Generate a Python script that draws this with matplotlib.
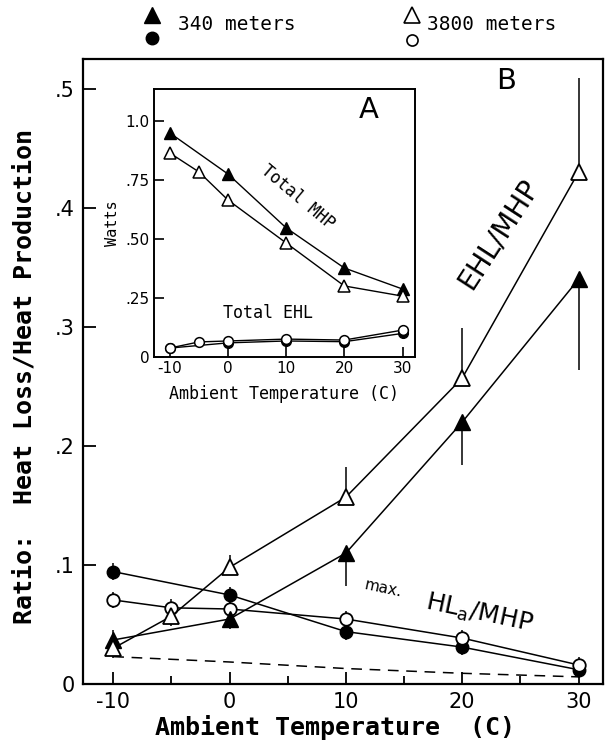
import numpy as np
import matplotlib.pyplot as plt
from matplotlib.lines import Line2D

plt.rcParams['font.family'] = 'DejaVu Sans'
MONO = 'DejaVu Sans Mono'   # wide, evenly spaced letters like the tracked labels

# main panel B: ratios
temp_340 = [-10, 0, 10, 20, 30]
temp_3800 = [-10, -5, 0, 10, 20, 30]

ehl_340 = [0.037, 0.0546, 0.110, 0.220, 0.340]
ehl_340_lo = [0.008, 0.008, 0.028, 0.036, 0.076]
ehl_340_hi = [0.008, 0.008, 0.0, 0.0, 0.0]

ehl_3800 = [0.030, 0.057, 0.098, 0.157, 0.257, 0.430]
ehl_3800_lo = [0.008, 0.008, 0.0, 0.0, 0.0, 0.0]
ehl_3800_hi = [0.0, 0.008, 0.010, 0.025, 0.042, 0.079]

hla_340 = [0.0944, 0.0748, 0.044, 0.031, 0.012]
hla_3800 = [0.0706, 0.064, 0.063, 0.0546, 0.0386, 0.016]
hla_err = 0.007

dash_temp = [-10, 0, 10, 20, 30]
dash_vals = [0.023, 0.0185, 0.013, 0.009, 0.006]

# inset panel A: watts
mhp_340 = [0.949, 0.775, 0.547, 0.377, 0.288]
mhp_3800 = [0.864, 0.784, 0.665, 0.483, 0.301, 0.258]
ehlw_340 = [0.038, 0.060, 0.068, 0.065, 0.100]
ehlw_3800 = [0.038, 0.064, 0.068, 0.076, 0.072, 0.114]

main_yticks = [0, 0.1, 0.2, 0.3, 0.4, 0.5]
main_ylabels = ['0', '.1', '.2', '.3', '.4', '.5']
xticks = [-10, 0, 10, 20, 30]
xlabels = ['-10', '0', '10', '20', '30']
inset_yticks = [0, 0.25, 0.5, 0.75, 1.0]
inset_ylabels = ['0', '.25', '.50', '.75', '1.0']

fig = plt.figure(figsize=(6.09, 7.46), dpi=100)
ax = fig.add_axes([0.1363, 0.0831, 0.8538, 0.8378])

lw = 1.1
# dashed baseline
ax.plot(dash_temp, dash_vals, 'k--', lw=1.1, dashes=(7, 5), zorder=1)

# error bars
ax.errorbar(temp_340, ehl_340, yerr=[ehl_340_lo, ehl_340_hi], fmt='none', ecolor='k', elinewidth=1.1, capsize=0, zorder=2)
ax.errorbar(temp_3800, ehl_3800, yerr=[ehl_3800_lo, ehl_3800_hi], fmt='none', ecolor='k', elinewidth=1.1, capsize=0, zorder=2)
ax.errorbar(temp_340, hla_340, yerr=hla_err, fmt='none', ecolor='k', elinewidth=1.1, capsize=0, zorder=2)
ax.errorbar(temp_3800, hla_3800, yerr=hla_err, fmt='none', ecolor='k', elinewidth=1.1, capsize=0, zorder=2)

ax.plot(temp_340, hla_340, 'k-', lw=lw, marker='o', ms=9, mfc='k', mec='k', zorder=3)
ax.plot(temp_3800, hla_3800, 'k-', lw=lw, marker='o', ms=9, mfc='white', mec='k', mew=1.3, zorder=4)
ax.plot(temp_340, ehl_340, 'k-', lw=lw, marker='^', ms=12, mfc='k', mec='k', zorder=5)
ax.plot(temp_3800, ehl_3800, 'k-', lw=lw, marker='^', ms=12, mfc='white', mec='k', mew=1.3, zorder=6)

ax.set_xlim(-12.6, 32.1)
ax.set_ylim(0, 0.525)
ax.set_xticks(xticks)
ax.set_xticklabels(xlabels)
ax.set_xticks([-5, 5, 15, 25], minor=True)
ax.set_yticks(main_yticks)
ax.set_yticklabels(main_ylabels)
ax.tick_params(which='major', direction='in', length=9, width=1.3, labelsize=15, pad=6)
ax.tick_params(which='minor', direction='in', length=6, width=1.3)
for s in ax.spines.values():
    s.set_linewidth(1.6)

ax.text(0.813, 0.965, 'B', transform=ax.transAxes, fontsize=21, ha='center', va='center')
ax.text(0.80, 0.72, 'EHL/MHP', transform=ax.transAxes, fontsize=20, rotation=57,
        ha='center', va='center')
ax.text(0.577, 0.152, 'max.', transform=ax.transAxes, fontsize=11,
        rotation=-12, ha='center', va='center')
ax.text(0.762, 0.113, 'HL$_\\mathregular{a}$/MHP', transform=ax.transAxes, fontsize=18,
        rotation=-12, ha='center', va='center')

fig.text(25 / 609, 1 - 377 / 746, 'Ratio:  Heat Loss/Heat Production', rotation=90,
         fontsize=18, family=MONO, weight='bold', ha='center', va='center')
fig.text(335 / 609, 1 - 727 / 746, 'Ambient Temperature  (C)', fontsize=18, family=MONO,
         weight='bold', ha='center', va='center')

# legend at the top
fig.add_artist(Line2D([152 / 609], [1 - 15 / 746], transform=fig.transFigure, marker='^', ms=11, mfc='k', mec='k', ls='none'))
fig.add_artist(Line2D([152 / 609], [1 - 38 / 746], transform=fig.transFigure, marker='o', ms=9, mfc='k', mec='k', ls='none'))
fig.add_artist(Line2D([412 / 609], [1 - 15 / 746], transform=fig.transFigure, marker='^', ms=11, mfc='white', mec='k', mew=1.2, ls='none'))
fig.add_artist(Line2D([412 / 609], [1 - 40 / 746], transform=fig.transFigure, marker='o', ms=8, mfc='white', mec='k', mew=1.2, ls='none'))
fig.text(178 / 609, 1 - 25 / 746, '340 meters', fontsize=14, family=MONO, ha='left', va='center')
fig.text(427 / 609, 1 - 25 / 746, '3800 meters', fontsize=14, family=MONO, ha='left', va='center')

# inset A
ins = fig.add_axes([0.253, 0.5214, 0.428, 0.3593])
ins.plot(temp_340, mhp_340, 'k-', lw=1.0, marker='^', ms=9, mfc='k', mec='k', zorder=3)
ins.plot(temp_3800, mhp_3800, 'k-', lw=1.0, marker='^', ms=9, mfc='white', mec='k', mew=1.1, zorder=4)
ins.plot(temp_340, ehlw_340, 'k-', lw=1.0, marker='o', ms=7, mfc='k', mec='k', zorder=3)
ins.plot(temp_3800, ehlw_3800, 'k-', lw=1.0, marker='o', ms=7, mfc='white', mec='k', mew=1.1, zorder=4)
ins.set_xlim(-12.7, 32.1)
ins.set_ylim(0, 1.135)
ins.set_xticks(xticks)
ins.set_xticklabels(xlabels)
ins.set_yticks(inset_yticks)
ins.set_yticklabels(inset_ylabels)
ins.tick_params(direction='in', length=7, width=1.2, labelsize=11, pad=3)
for s in ins.spines.values():
    s.set_linewidth(1.4)
ins.set_ylabel('Watts', fontsize=11, family=MONO, labelpad=4)
ins.set_xlabel('Ambient Temperature (C)', fontsize=12, family=MONO, labelpad=6)
ins.text(0.825, 0.92, 'A', transform=ins.transAxes, fontsize=21, ha='center', va='center')
ins.text(0.552, 0.597, 'Total MHP', transform=ins.transAxes, fontsize=12, family=MONO,
         rotation=-40, ha='center', va='center')
ins.text(0.437, 0.165, 'Total EHL', transform=ins.transAxes, fontsize=12, family=MONO,
         ha='center', va='center')

fig.savefig('out.png', dpi=100)
